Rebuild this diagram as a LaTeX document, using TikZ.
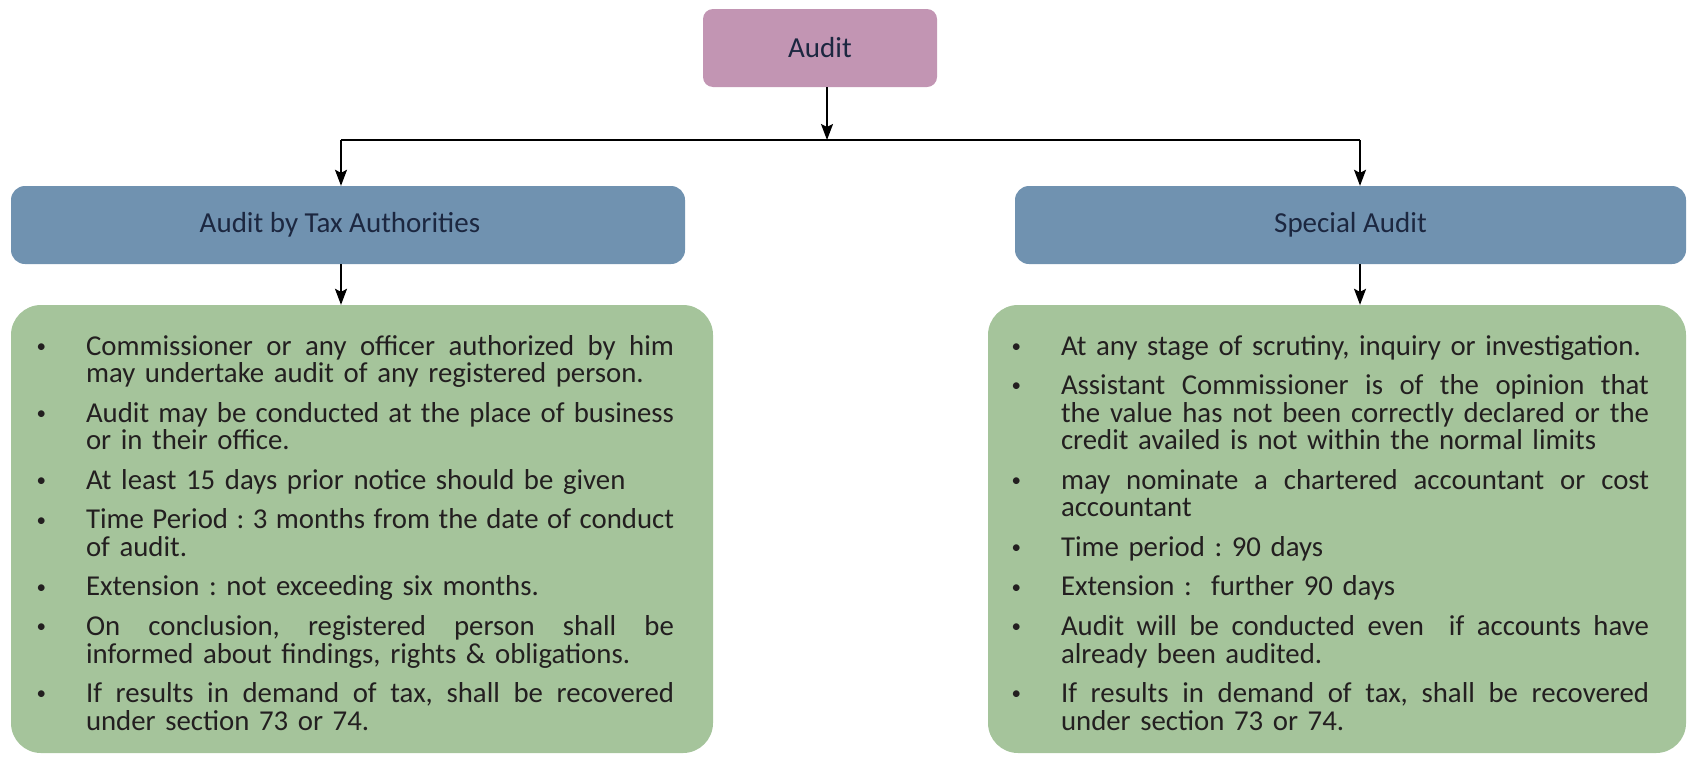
\documentclass[tikz,border=0pt]{standalone}
\usepackage{fontspec}
\setmainfont{Carlito}
\usetikzlibrary{arrows.meta}

\definecolor{auditpink}{HTML}{C295B3}
\definecolor{headblue}{HTML}{7092B0}
\definecolor{notegreen}{HTML}{A5C49B}
\definecolor{headtext}{HTML}{1C2740}
\definecolor{bodytext}{HTML}{231F20}

% one justified line of a point, and a last line
\newcommand{\fullline}[1]{\leavevmode\hbox to 588pt{\spaceskip=0.226em plus 1fil minus 0.06em\relax #1}\newline}
\newcommand{\lastline}[1]{\mbox{#1}}
\newcommand{\auditdot}{\raisebox{0.2ex}{\fontsize{19}{19}\selectfont\textbullet}}
\newenvironment{pointlist}{\setlength{\linewidth}{\hsize}%
  \begin{list}{\auditdot}{%
    \setlength{\leftmargin}{36pt}\setlength{\labelwidth}{10pt}%
    \setlength{\labelsep}{40pt}\setlength{\itemindent}{0pt}%
    \setlength{\itemsep}{12.1pt}\setlength{\parsep}{0pt}%
    \setlength{\topsep}{0pt}\setlength{\partopsep}{0pt}}}%
  {\end{list}}

\begin{document}
\frenchspacing
\begin{tikzpicture}[x=1pt,y=-1pt,
    headbox/.style={rounded corners=14pt, fill=headblue, text=headtext,
      minimum height=78pt, font=\fontsize{29}{30}\selectfont},
    notebox/.style={rounded corners=30pt, fill=notegreen, text=bodytext,
      minimum height=448pt, text width=624pt,
      font=\fontsize{28.8}{27.5}\selectfont\frenchspacing},
    flow/.style={line width=1.5pt, -{Stealth[length=16pt,width=12pt,inset=3pt]}}]

    \useasboundingbox (0,0) rectangle (1688,758);

    \node (audit) at (820,48) [rounded corners=10pt, fill=auditpink, text=headtext,
      minimum width=234pt, minimum height=78pt, font=\fontsize{29}{30}\selectfont] {Audit};

    \node (taxauth) at (348,225) [headbox, minimum width=674pt] {Audit by Tax Authorities\hspace*{16pt}};
    \node (special) at (1350.5,225) [headbox, minimum width=671pt] {Special Audit};

    \node (taxnotes) at (362,529) [notebox, inner xsep=39pt] {%
      \begin{pointlist}
        \item \fullline{Commissioner or any officer authorized by him}\lastline{may undertake audit of any registered person.}
        \item \fullline{Audit may be conducted at the place of business}\lastline{or in their office.}
        \item \lastline{At least 15 days prior notice should be given}
        \item \fullline{Time Period : 3 months from the date of conduct}\lastline{of audit.}
        \item \lastline{Extension : not exceeding six months.}
        \item \fullline{On conclusion, registered person shall be}\lastline{informed about findings, rights \& obligations.}
        \item \fullline{If results in demand of tax, shall be recovered}\lastline{under section 73 or 74.}
      \end{pointlist}};

    \node (specnotes) at (1337,529) [notebox, inner xsep=37pt] {%
      \begin{pointlist}
        \item \lastline{At any stage of scrutiny, inquiry or investigation.}
        \item \fullline{Assistant Commissioner is of the opinion that}\fullline{the value has not been correctly declared or the}\lastline{credit availed is not within the normal limits}
        \item \fullline{may nominate a chartered accountant or cost}\lastline{accountant}
        \item \lastline{Time period : 90 days}
        \item \lastline{Extension :\ \ further 90 days}
        \item \fullline{Audit will be conducted even\ \ if accounts have}\lastline{already been audited.}
        \item \fullline{If results in demand of tax, shall be recovered}\lastline{under section 73 or 74.}
      \end{pointlist}};

    \coordinate (mid) at (827,140);
    \coordinate (left) at (341,140);
    \coordinate (right) at (1360,140);

    \draw[flow] (audit.south -| mid) -- (mid);
    \draw[line width=1.5pt] (left) -- (right);
    \draw[flow] (left) -- (left |- taxauth.north);
    \draw[flow] (right) -- (right |- special.north);
    \draw[flow] (left |- taxauth.south) -- (left |- taxnotes.north);
    \draw[flow] (right |- special.south) -- (right |- specnotes.north);
\end{tikzpicture}
\end{document}
